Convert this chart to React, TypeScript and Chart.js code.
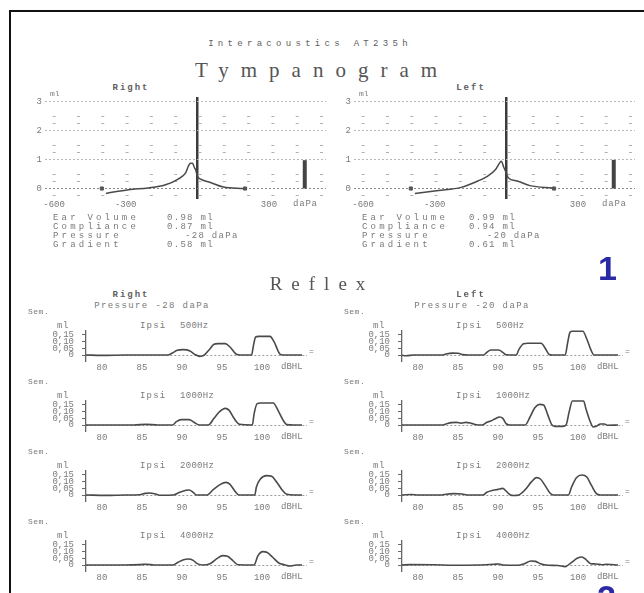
import React, { useEffect, useRef } from "react";
import { Chart, registerables } from "chart.js";

Chart.register(...registerables);

// ---------------- data ----------------
const TITLE = "Interacoustics AT235h";
const RESULT_LABELS = ["Ear Volume", "Compliance", "Pressure", "Gradient"];
const RIGHT_RESULTS = ["0.98 ml", "0.87 ml", "-28 daPa", "0.58 ml"];
const LEFT_RESULTS = ["0.99 ml", "0.94 ml", "-20 daPa", "0.61 ml"];
const RIGHT_EAR_VOLUME = 0.98;
const LEFT_EAR_VOLUME = 0.99;
const RIGHT_PRESSURE = -28;
const LEFT_PRESSURE = -20;

const TYMP_X_TICKS = [-600, -300, 0, 300];
const TYMP_Y_TICKS = [0, 1, 2, 3];
const TYMP_MINOR_Y = [-0.25, 0.25, 0.5, 1.25, 1.5, 2.25, 2.5];
const SWEEP_MARKS = [-400, 200];
const EAR_VOLUME_X = 450;

const RIGHT_TYMP_P = [-383, -288, -206, -136, -82, -49, -36, -28, -20, -12, -6, 0, 12, 55, 110, 193];
const RIGHT_TYMP_ML = [-0.17, -0.04, 0.02, 0.12, 0.32, 0.54, 0.8, 0.87, 0.87, 0.72, 0.62, 0.43, 0.33, 0.21, 0.05, 0.0];
const LEFT_TYMP_P = [-383, -284, -189, -119, -78, -45, -25, -20, -12, 0, 8, 45, 99, 195];
const LEFT_TYMP_ML = [-0.17, -0.07, 0.04, 0.26, 0.43, 0.66, 0.92, 0.94, 0.76, 0.54, 0.37, 0.26, 0.1, 0.02];

const REFLEX_FREQS = ["500Hz", "1000Hz", "2000Hz", "4000Hz"];
const REFLEX_X_TICKS = [80, 85, 90, 95, 100];
const REFLEX_Y_TICKS = [0, 0.05, 0.1, 0.15];

const R500_DB = [78, 80, 83, 88.2, 88.8, 89.4, 90.2, 91.0, 91.6, 92.2, 92.8, 93.4, 94.0, 94.5, 95.4, 96.0, 96.8, 97.3, 98.7, 98.9, 99.2, 99.6, 101.0, 101.5, 102.2, 102.6, 104, 105];
const R500_ML = [0, -0.003, 0, 0, 0.015, 0.035, 0.04, 0.03, 0.005, -0.01, 0, 0.04, 0.08, 0.085, 0.085, 0.06, 0.005, 0, 0, 0.06, 0.135, 0.14, 0.14, 0.1, 0.01, 0, 0, 0];
const R1000_DB = [78, 84, 85.5, 87, 88.8, 89.3, 89.9, 90.9, 91.5, 92.2, 93.3, 94.0, 94.7, 95.4, 95.9, 96.5, 97.2, 98.8, 99.0, 99.4, 99.8, 101.4, 102.0, 102.6, 103.1, 104, 105];
const R1000_ML = [0, 0, 0.005, 0, 0, 0.025, 0.04, 0.04, 0.02, 0, 0, 0.05, 0.1, 0.125, 0.11, 0.05, 0.005, 0, 0.08, 0.16, 0.165, 0.165, 0.11, 0.04, 0.003, 0, 0];
const R2000_DB = [78, 80.5, 83, 84.7, 85.4, 86.0, 86.8, 87.3, 88.9, 89.7, 90.5, 90.9, 91.4, 91.8, 93.1, 93.9, 94.8, 95.5, 96.0, 96.6, 97.1, 99.1, 99.3, 99.8, 100.6, 101.2, 101.8, 102.5, 103.1, 104, 105];
const R2000_ML = [0, -0.003, 0, 0.002, 0.012, 0.015, 0.005, -0.002, 0, 0.02, 0.035, 0.037, 0.02, 0, 0, 0.04, 0.08, 0.095, 0.08, 0.03, 0, 0, 0.06, 0.12, 0.145, 0.14, 0.1, 0.04, 0.005, 0, 0];
const R4000_DB = [78, 83, 84.8, 85.6, 86.5, 88.9, 89.5, 90.2, 90.8, 91.4, 91.9, 92.6, 93.5, 94.4, 95.1, 95.7, 96.4, 97.0, 99.0, 99.5, 100.1, 100.6, 101.3, 102.1, 102.8, 103.5, 104.3, 105];
const R4000_ML = [0, 0, 0.003, 0.006, 0, 0, 0.02, 0.04, 0.045, 0.035, 0.01, 0, 0.01, 0.05, 0.07, 0.065, 0.03, 0.002, 0, 0.07, 0.1, 0.095, 0.06, 0.015, 0.002, -0.008, 0, 0];

const L500_DB = [78, 78.5, 79.5, 83, 83.5, 84.3, 85, 85.6, 86.2, 88.2, 88.6, 89.1, 90.1, 90.6, 91.0, 92.3, 92.6, 93.2, 93.7, 95.4, 95.9, 96.4, 96.8, 98.4, 98.7, 99.0, 99.3, 100.6, 101.1, 101.6, 102.0, 104, 105];
const L500_ML = [-0.002, -0.006, 0, 0, 0.008, 0.014, 0.013, 0.003, 0, 0, 0.02, 0.037, 0.037, 0.02, 0.002, 0, 0.04, 0.085, 0.088, 0.088, 0.05, 0.004, 0, 0, 0.09, 0.17, 0.178, 0.178, 0.12, 0.04, 0, 0, 0];
const L1000_DB = [78, 83, 83.5, 84.2, 84.8, 85.4, 86.0, 86.7, 87.3, 88.0, 88.6, 89.1, 89.6, 90.2, 90.6, 91.0, 91.5, 93.4, 94.0, 94.6, 95.2, 95.7, 96.2, 96.7, 97.1, 98.1, 98.5, 98.9, 99.3, 100.7, 101.0, 101.5, 101.9, 102.3, 102.8, 103.3, 103.7, 105];
const L1000_ML = [0, 0, 0.008, 0.018, 0.02, 0.014, 0.02, 0.012, 0.002, 0, 0.02, 0.03, 0.045, 0.06, 0.05, 0.01, 0, 0, 0.06, 0.13, 0.155, 0.15, 0.08, 0.005, -0.01, -0.01, 0, 0.1, 0.18, 0.18, 0.12, 0.03, -0.015, -0.01, 0.008, 0.008, -0.002, 0];
const L2000_DB = [78, 79.2, 80, 83, 83.5, 84.5, 85.5, 86.3, 88.1, 88.6, 89.4, 90.0, 90.6, 91.0, 91.5, 92.0, 92.6, 93.4, 94.2, 94.8, 95.3, 95.9, 96.5, 96.9, 98.8, 99.2, 99.8, 100.5, 101.1, 101.7, 102.3, 102.8, 105];
const L2000_ML = [0, 0.004, 0, 0, 0.006, 0.01, 0.008, 0, 0, 0.02, 0.035, 0.042, 0.05, 0.03, 0.002, -0.004, 0, 0.04, 0.1, 0.13, 0.12, 0.07, 0.015, 0, 0, 0.06, 0.13, 0.15, 0.135, 0.07, 0.01, 0, 0];
const L4000_DB = [78, 79, 82, 84.5, 87.5, 89.5, 90.1, 90.6, 92.5, 93.3, 94.1, 94.7, 95.3, 96, 97.5, 98.4, 99.2, 99.9, 100.5, 101.0, 101.6, 102.2, 103, 103.6, 105];
const L4000_ML = [0, 0.003, 0.002, -0.002, 0, 0.006, 0.008, 0, -0.002, 0.01, 0.03, 0.027, 0.01, 0, -0.004, -0.012, 0.02, 0.05, 0.06, 0.04, 0.01, 0.008, 0.002, 0.006, 0];

const RIGHT_REFLEX = [
  [R500_DB, R500_ML],
  [R1000_DB, R1000_ML],
  [R2000_DB, R2000_ML],
  [R4000_DB, R4000_ML],
];
const LEFT_REFLEX = [
  [L500_DB, L500_ML],
  [L1000_DB, L1000_ML],
  [L2000_DB, L2000_ML],
  [L4000_DB, L4000_ML],
];

// ---------------- styles ----------------
const MONO = '"Liberation Mono", "DejaVu Sans Mono", monospace';
const SERIF = '"Liberation Serif", "DejaVu Serif", serif';
const TEXT = "#7a7a7a";
const LINE = "#4a4a4a";

const fixW = (w: number) => (s: any) => {
  s.width = w;
  s.paddingTop = 0;
  s.paddingBottom = 0;
  s.paddingLeft = 0;
  s.paddingRight = 0;
};
const fixH = (h: number) => (s: any) => {
  s.height = h;
  s.paddingTop = 0;
  s.paddingBottom = 0;
  s.paddingLeft = 0;
  s.paddingRight = 0;
};
const setTicks = (vals: number[]) => (s: any) => {
  s.ticks = vals.map((v) => ({ value: v }));
};

function tympConfig(p: number[], ml: number[], earVol: number): any {
  return {
    type: "line",
    data: {
      datasets: [
        {
          data: p.map((x, i) => ({ x, y: ml[i] })),
          borderColor: LINE,
          borderWidth: 1.5,
          pointRadius: 0,
          cubicInterpolationMode: "monotone",
        },
        {
          data: [
            { x: EAR_VOLUME_X, y: 0 },
            { x: EAR_VOLUME_X, y: earVol },
          ],
          borderColor: "#444",
          borderWidth: 4,
          borderCapStyle: "butt",
          pointRadius: 0,
        },
        {
          data: SWEEP_MARKS.map((x) => ({ x, y: 0 })),
          showLine: false,
          pointStyle: "rect",
          pointRadius: 2.2,
          backgroundColor: "#555",
          borderColor: "#555",
        },
      ],
    },
    options: {
      animation: false,
      responsive: false,
      events: [],
      layout: { padding: 0 },
      plugins: { legend: { display: false }, tooltip: { enabled: false } },
      scales: {
        x: {
          type: "linear",
          min: -638,
          max: 539,
          afterBuildTicks: setTicks(TYMP_X_TICKS),
          afterFit: fixH(12),
          grid: {
            color: (c: any) => (c.tick && c.tick.value === 0 ? "#3c3c3c" : "rgba(0,0,0,0)"),
            lineWidth: 2.5,
            drawTicks: false,
          },
          border: { display: false },
          ticks: {
            autoSkip: false,
            maxRotation: 0,
            padding: 0,
            color: TEXT,
            font: { family: MONO, size: 9 },
            callback: (v: any) => (v === 0 ? "" : String(v)),
          },
        },
        y: {
          type: "linear",
          position: "left",
          min: -0.3627,
          max: 3.165,
          afterBuildTicks: setTicks(TYMP_Y_TICKS),
          afterFit: fixW(30),
          grid: {
            color: (c: any) => (c.tick && c.tick.value === 0 ? "#8a8a8a" : "#b8b8b8"),
            drawTicks: false,
          },
          border: { display: false, dash: [2, 2] },
          ticks: { padding: 3, color: TEXT, font: { family: MONO, size: 9 } },
        },
        y2: {
          type: "linear",
          position: "left",
          min: -0.3627,
          max: 3.165,
          afterBuildTicks: setTicks(TYMP_MINOR_Y),
          afterFit: fixW(0),
          grid: { color: "#b0b0b0", drawTicks: false },
          border: { display: false, dash: [3, 21.3], dashOffset: 16.6 },
          ticks: { display: false },
        },
      },
    },
  };
}

function reflexConfig(db: number[], ml: number[]): any {
  return {
    type: "line",
    data: {
      datasets: [
        {
          data: db.map((x, i) => ({ x, y: ml[i] })),
          borderColor: LINE,
          borderWidth: 1.6,
          pointRadius: 0,
          cubicInterpolationMode: "monotone",
        },
      ],
    },
    options: {
      animation: false,
      responsive: false,
      events: [],
      layout: { padding: 0 },
      plugins: { legend: { display: false }, tooltip: { enabled: false } },
      scales: {
        x: {
          type: "linear",
          min: 78,
          max: 105.625,
          afterBuildTicks: setTicks(REFLEX_X_TICKS),
          afterFit: fixH(13),
          grid: { display: false, drawTicks: false },
          border: { display: false },
          ticks: {
            autoSkip: false,
            maxRotation: 0,
            padding: 1,
            color: TEXT,
            font: { family: MONO, size: 9 },
            callback: (v: any) => String(v),
          },
        },
        y: {
          type: "linear",
          min: -0.045,
          max: 0.1875,
          afterBuildTicks: setTicks(REFLEX_Y_TICKS),
          afterFit: fixW(60),
          grid: {
            color: (c: any) => (c.tick && c.tick.value === 0 ? "#9a9a9a" : "rgba(0,0,0,0)"),
            tickColor: "#6a6a6a",
            tickLength: 4,
            drawTicks: true,
          },
          border: { display: true, color: "#666", width: 1.3, dash: [2, 2] },
          ticks: {
            autoSkip: false,
            padding: 8,
            color: TEXT,
            font: { family: MONO, size: 9 },
            callback: (v: any) => (v === 0 ? "0" : Number(v).toFixed(2).replace(".", ",")),
          },
        },
      },
    },
  };
}

function ChartBox(props: { left: number; top: number; width: number; height: number; make: () => any }) {
  const ref = useRef<HTMLCanvasElement>(null);
  useEffect(() => {
    const chart = new Chart(ref.current as HTMLCanvasElement, props.make());
    return () => chart.destroy();
  }, []);
  return (
    <canvas
      ref={ref}
      width={props.width}
      height={props.height}
      style={{ position: "absolute", left: props.left, top: props.top, width: props.width, height: props.height }}
    />
  );
}

function Txt(props: {
  x: number;
  y: number;
  text: string;
  size?: number;
  family?: string;
  spacing?: number;
  color?: string;
  weight?: number;
  center?: boolean;
}) {
  const { x, y, text, size = 9, family = MONO, spacing = 0, color = TEXT, weight = 400, center = false } = props;
  return (
    <div
      style={{
        position: "absolute",
        left: x,
        top: y,
        transform: center ? "translate(-50%,-50%)" : "translateY(-50%)",
        whiteSpace: "pre",
        fontSize: size,
        fontFamily: family,
        letterSpacing: spacing,
        color,
        fontWeight: weight,
        lineHeight: 1,
      }}
    >
      {text}
    </div>
  );
}

function Tymp(props: { ox: number; p: number[]; ml: number[]; earVol: number; results: string[]; valueXs: number[] }) {
  const { ox, p, ml, earVol, results, valueXs } = props;
  const rowY = [218, 227, 236, 245];
  return (
    <>
      <ChartBox left={15 + ox} top={92} width={316} height={119} make={() => tympConfig(p, ml, earVol)} />
      <Txt x={50 + ox} y={94} text="ml" size={8} />
      <Txt x={293 + ox} y={204} text="daPa" size={9} spacing={0.8} />
      {RESULT_LABELS.map((l, i) => (
        <Txt key={"l" + i} x={53 + ox} y={rowY[i]} text={l} size={9} spacing={3.2} />
      ))}
      {results.map((r, i) => (
        <Txt key={"v" + i} x={valueXs[i] + ox} y={rowY[i]} text={r} size={9} spacing={1.3} />
      ))}
    </>
  );
}

function Reflex(props: { ox: number; series: number[][][] }) {
  const { ox, series } = props;
  return (
    <>
      {series.map((s, r) => {
        const zy = 355 + r * 70;
        return (
          <React.Fragment key={r}>
            <Txt x={28 + ox} y={zy - 43} text="Sem." size={8} spacing={0.5} />
            <Txt x={57 + ox} y={zy - 29} text="ml" size={9} spacing={0.5} />
            <Txt x={140 + ox} y={zy - 29} text="Ipsi" size={9} spacing={1.2} />
            <Txt x={180 + ox} y={zy - 29} text={REFLEX_FREQS[r]} size={9} spacing={0.3} />
            <ChartBox left={26 + ox} top={zy - 25} width={281} height={44} make={() => reflexConfig(s[0], s[1])} />
            <Txt x={281 + ox} y={zy + 12} text="dBHL" size={9} />
            <Txt x={309 + ox} y={zy - 3} text="=" size={8} />
          </React.Fragment>
        );
      })}
    </>
  );
}

export default function App() {
  useEffect(() => {
    document.body.style.margin = "0";
  }, []);
  return (
    <div
      style={{
        position: "fixed",
        left: 0,
        top: 0,
        width: 644,
        height: 593,
        background: "#fff",
        overflow: "hidden",
      }}
    >
      <div
        style={{
          position: "absolute",
          left: 9,
          top: 10,
          width: 640,
          height: 590,
          borderTop: "2px solid #111",
          borderLeft: "2px solid #111",
        }}
      />
      <Txt x={310} y={44} text={TITLE} size={9} spacing={4.3} color="#5e5e5e" center />
      <Txt x={322} y={70} text="Tympanogram" size={21} family={SERIF} spacing={12} color="#555" center />
      <Txt x={131} y={88} text="Right" size={9} spacing={2} color="#5e5e5e" weight={700} center />
      <Txt x={471} y={88} text="Left" size={9} spacing={2} color="#5e5e5e" weight={700} center />

      <Tymp ox={0} p={RIGHT_TYMP_P} ml={RIGHT_TYMP_ML} earVol={RIGHT_EAR_VOLUME} results={RIGHT_RESULTS} valueXs={[167, 167, 185, 167]} />
      <Tymp ox={309} p={LEFT_TYMP_P} ml={LEFT_TYMP_ML} earVol={LEFT_EAR_VOLUME} results={LEFT_RESULTS} valueXs={[160, 160, 178, 160]} />

      <Txt x={598} y={268} text="1" size={34} family='"Liberation Sans", Arial, sans-serif' color="#2a2aa6" weight={700} />

      <Txt x={322} y={283} text="Reflex" size={19} family={SERIF} spacing={9} color="#555" center />
      <Txt x={131} y={295} text="Right" size={9} spacing={2} color="#5e5e5e" weight={700} center />
      <Txt x={471} y={295} text="Left" size={9} spacing={2} color="#5e5e5e" weight={700} center />
      <Txt x={152} y={306} text={`Pressure ${RIGHT_PRESSURE} daPa`} size={9} spacing={1.4} center />
      <Txt x={472} y={306} text={`Pressure ${LEFT_PRESSURE} daPa`} size={9} spacing={1.4} center />

      <Reflex ox={0} series={RIGHT_REFLEX} />
      <Reflex ox={316} series={LEFT_REFLEX} />

      <Txt x={597} y={597} text="2" size={34} family='"Liberation Sans", Arial, sans-serif' color="#2a2aa6" weight={700} />
    </div>
  );
}
